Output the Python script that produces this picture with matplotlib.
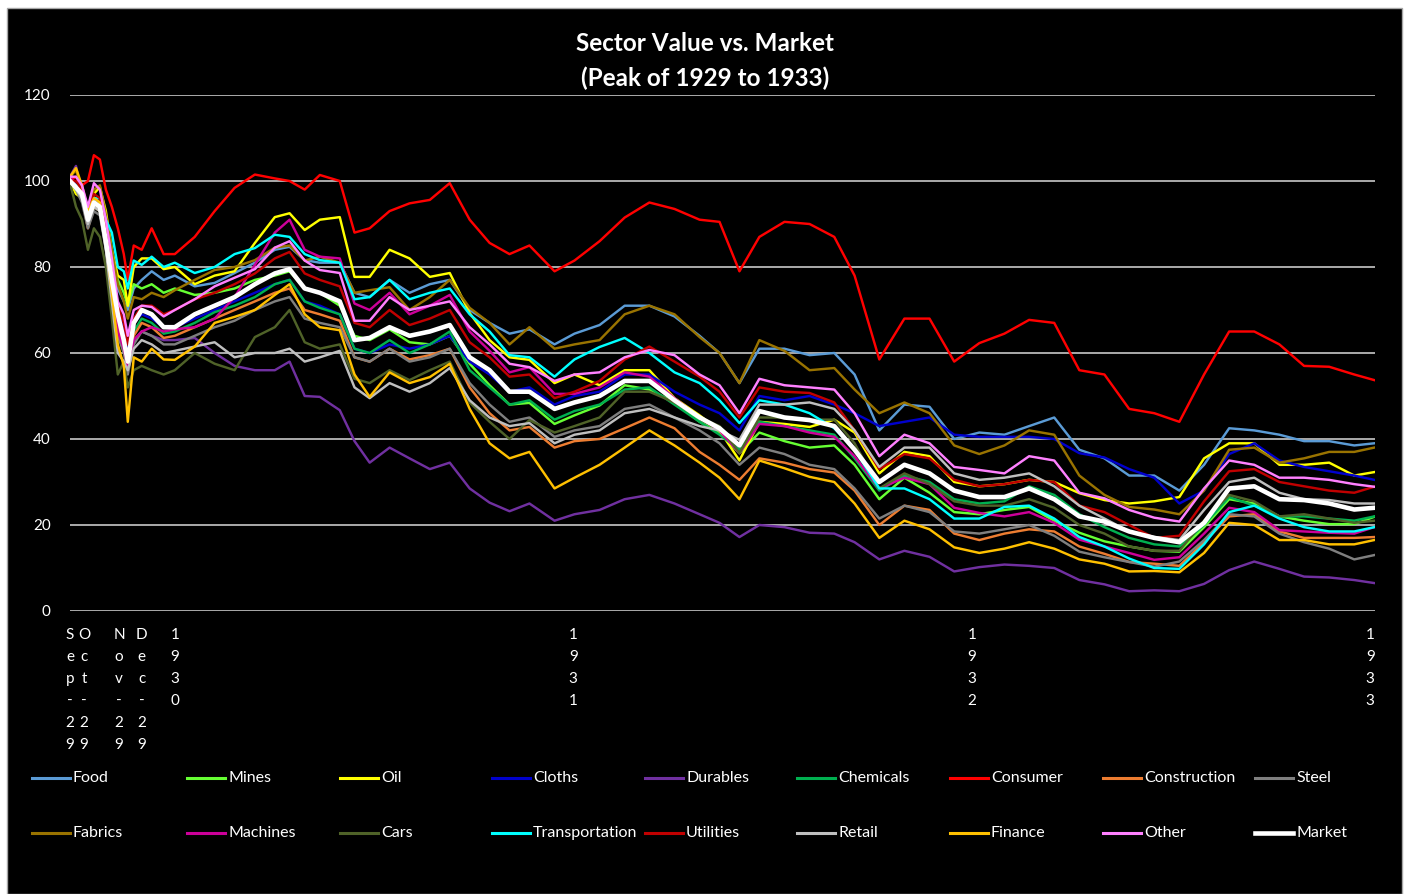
import matplotlib
matplotlib.use("Agg")
import matplotlib.pyplot as plt
from matplotlib.lines import Line2D
from matplotlib.patches import Rectangle

plt.rcParams['font.family'] = ['Lato', 'DejaVu Sans']

# decimal-year positions of the sampled observations
dates = [1929.737, 1929.752, 1929.767, 1929.782, 1929.797, 1929.812, 1929.827, 1929.842, 1929.857, 1929.872,
         1929.882, 1929.897, 1929.917, 1929.942, 1929.972, 1930.000, 1930.050, 1930.100, 1930.150, 1930.201,
         1930.251, 1930.288, 1930.326, 1930.364, 1930.414, 1930.451, 1930.489, 1930.539, 1930.589, 1930.640,
         1930.690, 1930.740, 1930.790, 1930.840, 1930.890, 1930.953, 1931.003, 1931.066, 1931.129, 1931.191,
         1931.254, 1931.317, 1931.367, 1931.417, 1931.467, 1931.530, 1931.593, 1931.655, 1931.706, 1931.768,
         1931.831, 1931.894, 1931.956, 1932.019, 1932.082, 1932.144, 1932.207, 1932.270, 1932.333, 1932.395,
         1932.458, 1932.521, 1932.583, 1932.646, 1932.709, 1932.772, 1932.834, 1932.897, 1932.960, 1933.010]

food = [100, 99, 97, 92, 96, 95, 88, 82, 75, 72,
        70, 75, 77, 79, 77, 78, 75.5, 76.3, 78.6, 81,
        84, 84.7, 81.6, 81, 81, 74, 73, 77, 74, 76,
        77, 70, 67, 64.5, 65.5, 62, 64.5, 66.5, 71, 71,
        68.5, 64, 60, 53, 61, 61, 59.5, 60, 55, 42,
        48, 47.5, 40, 41.5, 41, 43, 45, 37.5, 35.5, 31.5,
        31.5, 28, 34, 42.5, 42, 41, 39.5, 39.5, 38.5, 39]
mines = [100, 99, 96, 90, 94, 94, 87, 82, 77, 74,
         71, 76, 75, 76, 74, 75, 73.5, 74, 75, 77,
         78, 79, 75, 74, 71, 64, 63, 65.5, 62.5, 62,
         64, 57.5, 52.5, 48, 48.4, 43.5, 45.5, 47.8, 52.5, 51.5,
         48.5, 44, 41.5, 36.7, 41.5, 39.5, 38, 38.5, 34, 26,
         31, 27.5, 23, 22.5, 23.5, 24.2, 21, 18.2, 16.2, 15,
         14, 13.8, 19.5, 26, 25, 22, 21, 20.2, 20.2, 21.9]
oil = [100, 97, 96, 92, 97, 98.6, 93, 84, 78, 77,
       71, 80, 82, 82, 79.5, 80, 76, 78, 79, 85.6,
       91.6, 92.5, 88.6, 91, 91.6, 77.7, 77.7, 84, 82, 77.7,
       78.6, 69.3, 63, 59, 58.4, 53, 55, 52.5, 56, 56,
       49.5, 45.5, 42, 35, 44, 43.5, 42.8, 44.5, 41.5, 32,
       37, 36, 30, 29, 29.5, 30.5, 30, 27.4, 25.8, 25,
       25.5, 26.5, 35.5, 39, 39, 34, 34, 34.5, 31.5, 32.3]
cloths = [100, 99, 96, 90, 95, 94, 86, 78, 70, 65,
          60, 67, 69, 68, 66, 66, 68, 70, 72, 74,
          76, 77, 72, 71, 69, 61, 60, 62, 61, 62,
          64, 58, 55, 51, 52, 48, 50, 51, 55, 55,
          51, 48, 46, 42, 50, 49, 50, 48, 46, 43,
          44, 45, 41, 40.5, 40.5, 40.5, 40, 36.7, 35.7, 33,
          31, 25, 28, 36.5, 39, 35, 33.5, 32.5, 31.5, 30.5]
durables = [101, 103.5, 97, 91, 94, 93, 85, 77, 68, 63,
            58, 63, 65, 64, 63, 63, 63.5, 60, 57, 56,
            56, 58, 50, 49.8, 46.7, 39.5, 34.5, 38, 35.5, 33,
            34.5, 28.5, 25.2, 23.2, 25, 21, 22.5, 23.5, 26, 27,
            25, 22.5, 20.5, 17.2, 20, 19.5, 18.2, 18, 16, 12,
            14, 12.6, 9.2, 10.2, 10.8, 10.5, 10, 7.2, 6.2, 4.6,
            4.8, 4.6, 6.3, 9.5, 11.5, 9.8, 8, 7.8, 7.2, 6.5]
chemicals = [100, 98, 96, 90, 94, 93, 85, 76, 67, 62,
             58, 65, 68, 67, 64.5, 65, 67, 69.5, 71, 73,
             76, 77, 72, 70.5, 69, 61, 60, 63, 60, 62,
             65, 56, 52, 48, 49, 44.5, 46.5, 48, 51.5, 52,
             48, 44, 41, 37.5, 44, 43, 42, 41, 35.5, 28,
             31.5, 30, 26, 25, 25.5, 29, 27, 22.5, 19.5, 17,
             15.5, 15, 20, 26.5, 24.5, 22, 22, 21.5, 21, 22]
consumer = [100, 101, 99, 100, 106, 105, 98, 94, 89, 83,
            77, 85, 84, 89, 83, 83, 87, 93, 98.4, 101.5,
            100.6, 100, 98, 101.4, 100, 88, 89, 93, 94.8, 95.6,
            99.5, 91, 85.6, 83, 85, 79, 81.5, 86, 91.5, 95,
            93.5, 91, 90.5, 79, 87, 90.5, 90, 87, 78, 58.5,
            68, 68, 58, 62.3, 64.5, 67.7, 67, 56, 55, 47,
            46, 44, 55, 65, 65, 62, 57, 56.8, 55, 53.7]
construction = [100, 99, 96, 89, 94, 93, 85, 75, 66, 62,
                57, 64, 67, 66, 63.5, 64, 66, 68, 70, 72,
                74, 75, 70, 69, 67.5, 59, 58, 61, 58.5, 59.5,
                61, 52, 46, 42, 42.8, 38, 39.5, 40, 42.5, 45,
                42.5, 37, 34, 30.5, 35.5, 34.5, 33, 32.2, 28, 20,
                24.5, 23.5, 18, 16.5, 18, 19, 18.5, 15, 13.3, 11.4,
                11, 10.5, 16, 22, 22.5, 18.5, 17, 17, 17, 17.2]
steel = [100, 98, 95, 89, 93, 92, 84, 74, 64, 60,
         55, 62, 65, 64, 62, 62, 64, 66, 67.5, 70,
         72, 73, 68, 67, 66, 59, 58, 61, 58, 59,
         61, 53, 48, 44, 45, 40.5, 42, 43, 47, 48,
         45, 42, 39, 34, 38, 36.5, 34, 33, 28.5, 21.5,
         24.5, 23, 18.5, 18, 19, 20, 17.5, 13.8, 12.5, 11.4,
         10.3, 11.5, 16.5, 22.5, 22, 18, 16, 14.5, 12, 13]
fabrics = [101, 102.5, 98, 94, 98, 99, 92, 84, 76, 72,
           68, 73, 72.5, 74, 73, 74.6, 77, 79.3, 80, 81.6,
           84.5, 85, 81.5, 82.4, 81, 74, 74.6, 75.3, 70, 73,
           77, 70.5, 67, 62, 66, 61, 62, 63, 69, 71,
           69, 63.7, 60, 53, 63, 60.5, 56, 56.5, 51.5, 46,
           48.5, 46, 38.5, 36.5, 38.5, 42, 41, 31.5, 27, 24.2,
           23.6, 22.5, 28, 37.5, 38, 34.5, 35.5, 37, 37, 38]
machines = [101, 99, 97, 91, 95, 94, 86, 76, 65, 61,
            57, 63, 65, 66, 65, 65.5, 66, 68, 73, 80.5,
            88, 91, 84, 82.4, 82, 71.5, 70, 74, 69, 71,
            73.5, 65, 60.5, 55.5, 56.7, 50.5, 50.5, 52, 55.5, 54.5,
            49.5, 45, 42, 36.7, 43.5, 43, 41.5, 40.5, 36, 28.5,
            31, 29.5, 24, 22.8, 22, 23, 20.5, 16.6, 15, 13.5,
            11.9, 12.5, 18, 24, 23, 18.8, 18.5, 18.2, 18, 19.5]
cars = [99.5, 94, 91, 84, 89, 87, 80, 68, 55, 58,
        52, 56, 57, 56, 55, 56, 60, 57.5, 56, 63.7,
        66, 70, 62.5, 61, 62, 54, 53, 56, 53.7, 56,
        58, 48.5, 44, 40, 44.4, 41.5, 43, 45, 51, 51,
        48.5, 45, 43, 36.7, 45, 45, 44.5, 44.5, 39, 28.5,
        32, 29.5, 25.5, 24.5, 24.5, 26, 24, 20, 18, 15,
        14, 14, 21, 27, 25.5, 22, 22.5, 21.5, 20.5, 21]
transportation = [100, 99, 97, 91, 96, 96, 91, 88, 80, 79,
                  75, 81.5, 80.5, 82.4, 80, 81, 78.6, 80, 83, 84.4,
                  87.5, 87, 83, 81.6, 81, 72.5, 73, 77, 72.5, 74,
                  75, 69, 65, 59.5, 59, 54.5, 58.5, 61.4, 63.5, 60,
                  55.5, 53, 49, 43.7, 49, 48, 46, 42.5, 37.5, 28.5,
                  28.5, 26, 21.5, 21.5, 24.2, 24.5, 21.5, 17.2, 15, 12.2,
                  10, 9.8, 15.5, 23, 24.5, 21.5, 19.5, 18.5, 18.5, 19.5]
utilities = [100, 100, 98, 93, 97, 96, 89, 80, 71, 67,
             62, 68, 71, 71, 69, 70, 72.5, 74, 76, 78.5,
             82, 83.5, 78.5, 77, 75.5, 67, 66, 70, 66.5, 68,
             70, 62.5, 59, 54.5, 55, 49.5, 51, 53.5, 58.5, 61.5,
             58, 54.5, 51, 45, 52, 51, 50.7, 48.5, 42, 33,
             36.5, 35.5, 30.5, 29, 29.5, 30.5, 30, 24.5, 23, 20,
             17, 17.5, 25.5, 32.5, 33, 30, 29, 28, 27.5, 28.9]
retail = [100, 98, 96, 90, 94, 93, 84, 72, 60, 58,
          56, 61, 63, 62, 60, 60.5, 61.5, 62.5, 59, 60,
          60, 61, 58, 59, 60.5, 52, 49.5, 53, 51, 53,
          56.5, 49, 45, 43, 43.7, 39, 41, 42, 46, 47,
          45, 43, 42, 39.8, 48, 48, 48.5, 47, 42, 33.5,
          38, 38, 32, 30.5, 31, 32, 29, 24.5, 21.5, 18.5,
          17.2, 16.5, 23.5, 30, 31, 27.5, 26, 25.8, 25, 25]
finance = [101, 103, 99, 93, 96, 95, 86, 74, 62, 57,
           44, 59, 58, 61, 58.5, 58.4, 61.5, 67, 68.4, 70,
           73.5, 76, 69, 66, 65.3, 55, 49.8, 55.5, 53, 54.4,
           57.5, 47, 39, 35.5, 37, 28.5, 31, 34, 38, 42,
           38.5, 34.5, 31, 26, 35, 33.2, 31.2, 30, 25, 17,
           21, 19, 14.8, 13.5, 14.5, 16, 14.5, 12, 11, 9.2,
           9.3, 9, 13.5, 20.5, 20, 16.5, 16.5, 15.5, 15.5, 16.5]
other = [101, 101, 99, 94, 99.5, 98, 91, 82, 72, 69,
         64, 70, 71, 70.7, 68.5, 70, 72.5, 75.5, 77.5, 79.5,
         84.5, 86, 81.5, 79.3, 78.6, 67.5, 67.5, 73, 70, 71,
         72, 66, 62, 57.5, 56.7, 53.5, 55, 55.5, 59, 60.7,
         59.5, 55, 52.5, 46, 54, 52.5, 52, 51.5, 46, 36,
         41, 39, 33.5, 32.8, 32, 36, 35, 27.5, 26.2, 23.5,
         21.7, 20.8, 28.5, 35, 34, 31, 31, 30.5, 29.5, 28.9]
market = [100, 98.5, 97, 91, 95, 94, 86, 77, 69, 63,
          58, 67, 70, 69, 66, 66, 69, 71, 73, 76,
          78.5, 79.5, 75, 74, 72, 63, 63.5, 66, 64, 65,
          66.5, 59, 56, 51, 51, 47, 48.5, 50, 53.5, 53.5,
          49, 45, 42.5, 38.5, 46.5, 45, 44.4, 43, 37.5, 30,
          34, 32, 28, 26.5, 26.5, 28.5, 26, 22, 20.8, 18.5,
          17, 16, 20.5, 28.5, 29, 26, 25.8, 25, 23.6, 24]

names = ["Food", "Mines", "Oil", "Cloths", "Durables", "Chemicals", "Consumer",
         "Construction", "Steel", "Fabrics", "Machines", "Cars", "Transportation",
         "Utilities", "Retail", "Finance", "Other", "Market"]
values = [food, mines, oil, cloths, durables, chemicals, consumer, construction, steel,
          fabrics, machines, cars, transportation, utilities, retail, finance, other, market]
colors = ["#5B9BD5", "#66FF33", "#FFFF00", "#0000CC", "#7030A0", "#00B050", "#FF0000",
          "#ED7D31", "#7F7F7F", "#997300", "#CC0099", "#4F6228", "#00FFFF", "#C00000",
          "#BFBFBF", "#FFC000", "#FF80FF", "#FFFFFF"]

tick_pos = [1929.737, 1929.772, 1929.860, 1929.917, 1930.0, 1931.0, 1932.0, 1933.0]
tick_text = ["Sep-29", "Oct-29", "Nov-29", "Dec-29", "1930", "1931", "1932", "1933"]

W, H = 1410, 894
fig = plt.figure(figsize=(W / 100, H / 100), dpi=100, facecolor="white")
fig.add_artist(Rectangle((7 / W, 0), (1402 - 7) / W, (H - 8) / H, transform=fig.transFigure,
                         facecolor="black", edgecolor="#A6A6A6", lw=1.0, zorder=0))

ax = fig.add_axes([70 / W, (H - 611) / H, 1305 / W, 516 / H])
ax.set_facecolor("black")
for s in ax.spines.values():
    s.set_visible(False)

for name, vals, col in zip(names, values, colors):
    lw = 3.3 if name == "Market" else 1.75
    ax.plot(dates, vals, color=col, lw=lw, solid_joinstyle="round", zorder=3)

ax.set_xlim(1929.737, 1933.012)
ax.set_ylim(0, 120)
ax.set_yticks(range(0, 121, 20))
ax.yaxis.grid(True, color="#D9D9D9", lw=1.1, zorder=1)
ax.set_axisbelow(True)
ax.set_xticks(tick_pos)
ax.set_xticklabels(["\n".join(t) for t in tick_text])
ax.tick_params(axis="both", length=0, colors="white", labelsize=11)
ax.tick_params(axis="y", pad=14)
ax.tick_params(axis="x", pad=12)
for lbl in ax.get_xticklabels():
    lbl.set_linespacing(1.73)
    lbl.set_verticalalignment("top")

fig.text(705 / W, 1 - 61 / H, "Sector Value vs. Market\n(Peak of 1929 to 1933)",
         ha="center", va="center", color="white", fontsize=17.5, fontweight="bold",
         linespacing=1.55)

col_x = [32, 187, 340, 492, 645, 797, 950, 1103, 1255]
row_y = [778, 833]
for i, (name, col) in enumerate(zip(names, colors)):
    r, c = divmod(i, 9)
    x0 = col_x[c]
    y = 1 - row_y[r] / H
    lw = 3.3 if name == "Market" else 2.2
    fig.add_artist(Line2D([x0 / W, (x0 + 38) / W], [y, y], transform=fig.transFigure,
                          color=col, lw=lw))
    fig.text((x0 + 41) / W, y, name, color="white", fontsize=11.5, ha="left", va="center")

fig.savefig("out.png", dpi=100, facecolor="white")
